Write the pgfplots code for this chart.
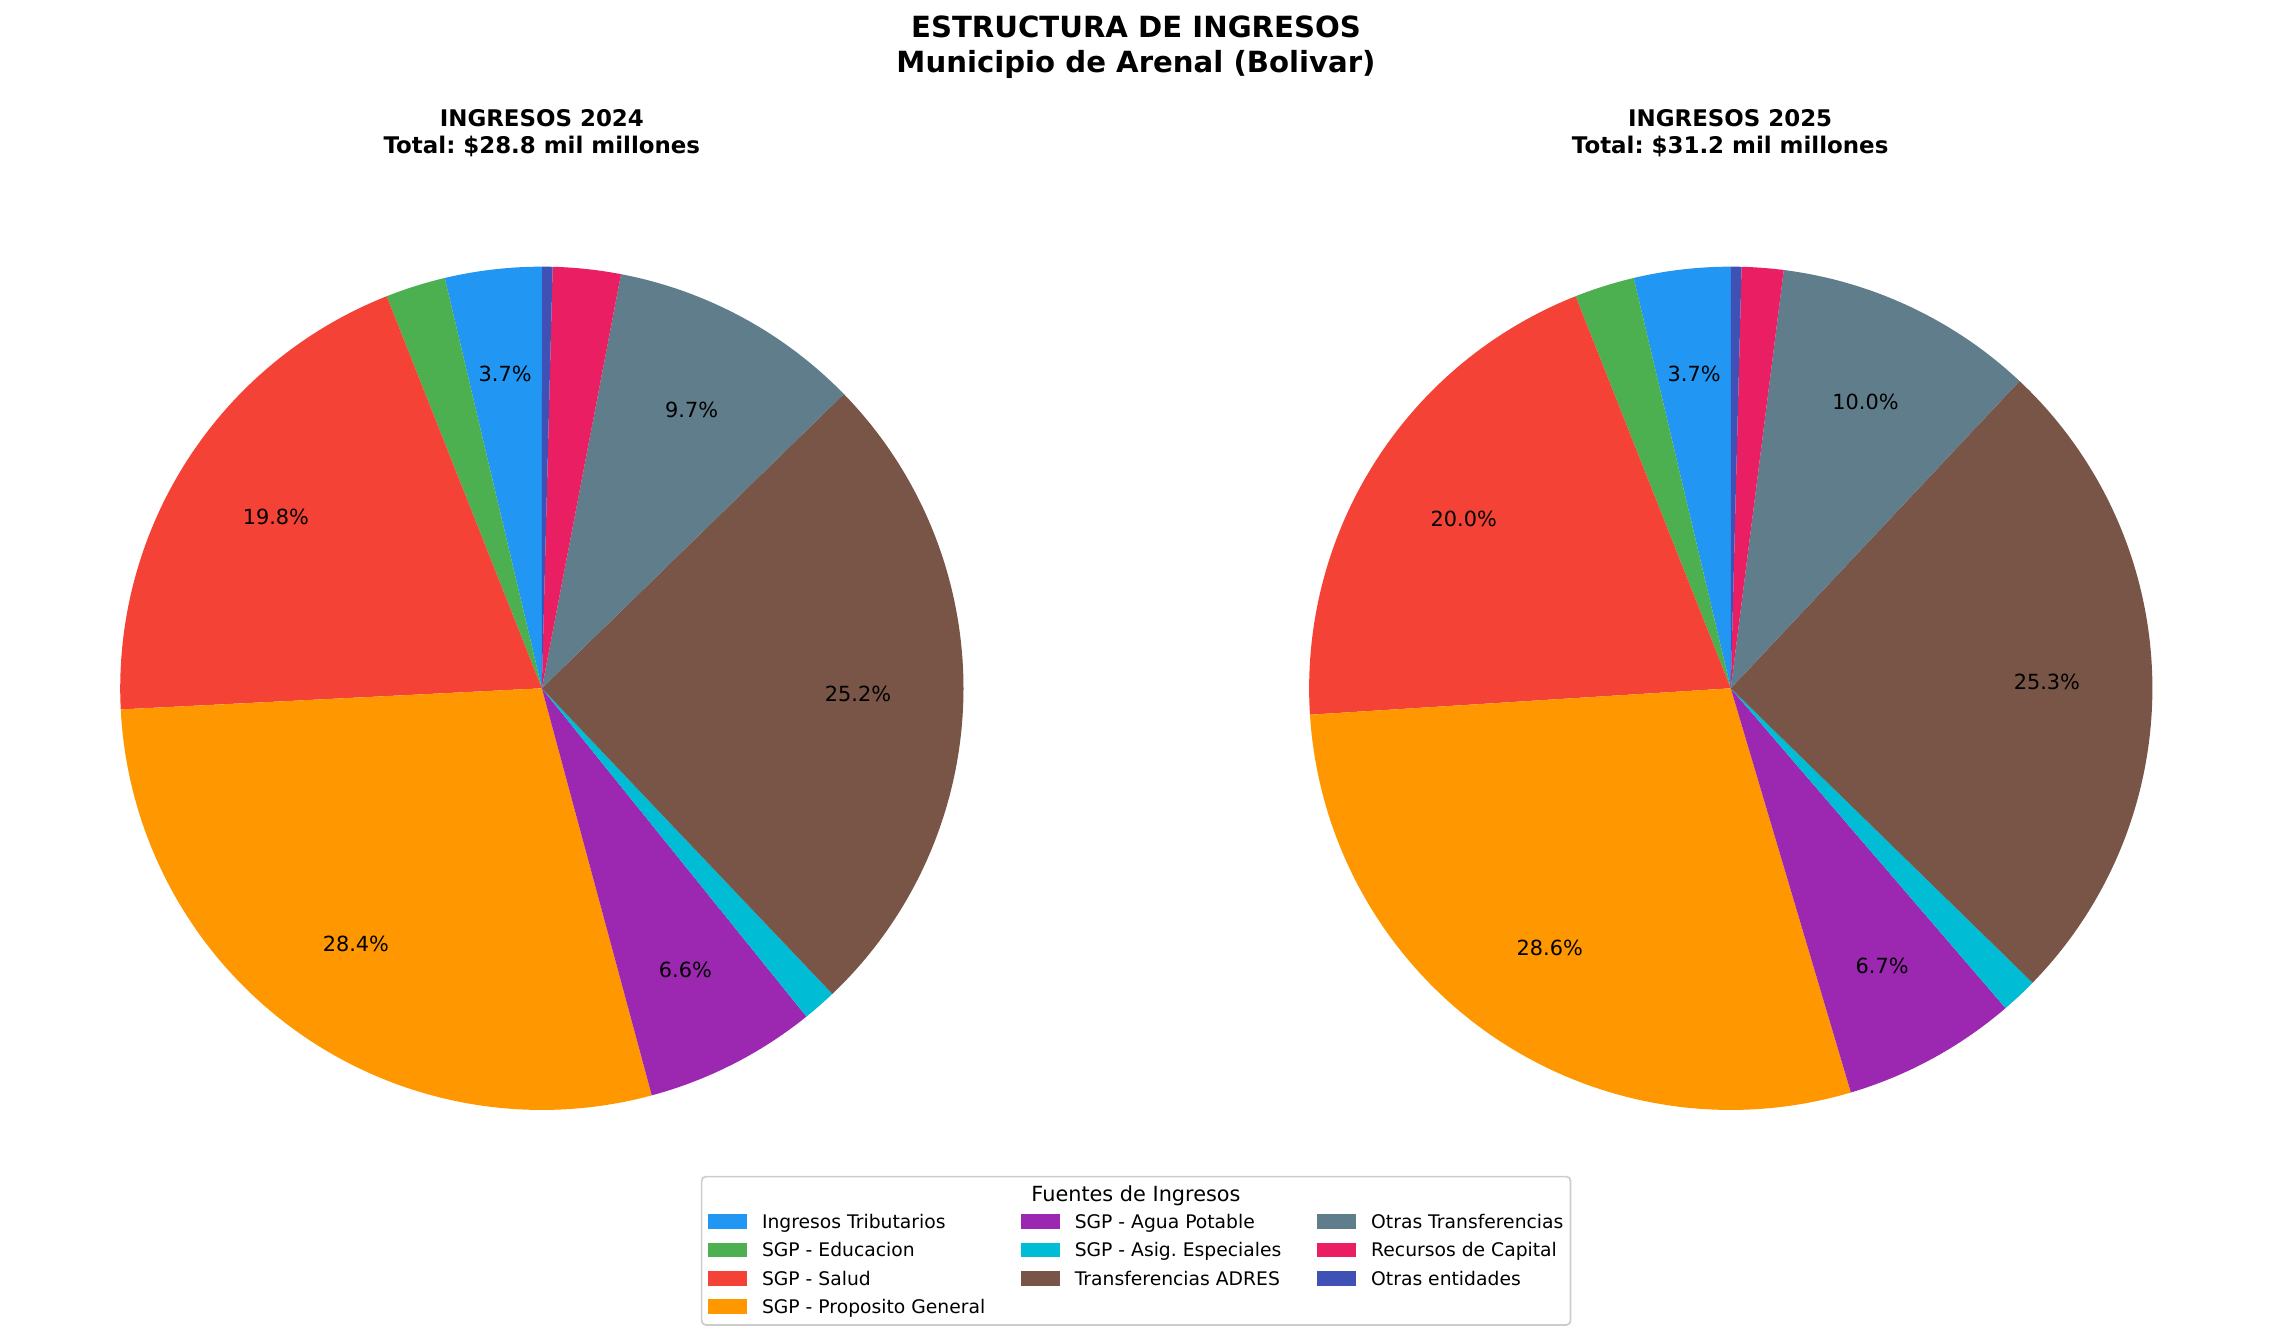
\documentclass[border=0pt]{standalone}
\usepackage{fontspec}
\setmainfont{DejaVu Sans}
\usepackage{pgfplots}
\usepackage{pgfplotstable}
\pgfplotsset{compat=1.18}
\frenchspacing

\definecolor{c0}{HTML}{2196F3}
\definecolor{c1}{HTML}{4CAF50}
\definecolor{c2}{HTML}{F44336}
\definecolor{c3}{HTML}{FF9800}
\definecolor{c4}{HTML}{9C27B0}
\definecolor{c5}{HTML}{00BCD4}
\definecolor{c6}{HTML}{795548}
\definecolor{c7}{HTML}{607D8B}
\definecolor{c8}{HTML}{E91E63}
\definecolor{c9}{HTML}{3F51B5}

% Income structure (percent of total)
\pgfplotstableread{
fuente pct
Tributarios 3.7
Educacion 2.3
Salud 19.8
PropositoGeneral 28.4
AguaPotable 6.6
AsigEspeciales 1.3
ADRES 25.2
OtrasTransferencias 9.7
RecursosCapital 2.6
OtrasEntidades 0.4
}\dataA
\pgfplotstableread{
fuente pct
Tributarios 3.7
Educacion 2.3
Salud 20.0
PropositoGeneral 28.6
AguaPotable 6.7
AsigEspeciales 1.4
ADRES 25.3
OtrasTransferencias 10.0
RecursosCapital 1.6
OtrasEntidades 0.4
}\dataB

\newcommand\labfont{\fontsize{10}{12}\selectfont}

% #1 table, #2 cx, #3 cy, #4 radius
\newcommand\drawpie[4]{%
  \pgfplotstablegetrowsof{#1}%
  \pgfmathtruncatemacro\nrows{\pgfplotsretval-1}%
  \def\ptot{0}%
  \pgfplotsforeachungrouped \i in {0,...,\nrows}{%
    \pgfplotstablegetelem{\i}{pct}\of{#1}%
    \pgfmathsetmacro\ptot{\ptot+\pgfplotsretval}%
  }%
  \def\curang{90}%
  \pgfplotsforeachungrouped \i in {0,...,\nrows}{%
    \pgfplotstablegetelem{\i}{pct}\of{#1}\let\pval\pgfplotsretval
    \pgfmathsetmacro\aend{\curang+360*(\pval/\ptot)}%
    \pgfmathtruncatemacro\nsteps{max(2,ceil((\aend-\curang)/0.5))}%
    \pgfmathsetmacro\dang{(\aend-\curang)/\nsteps}%
    \xdef\coords{(#2,#3)}%
    \foreach \k in {0,...,\nsteps}{%
      \pgfmathsetmacro\ang{\curang+\k*\dang}%
      \pgfmathsetmacro\px{#2+#4*cos(\ang)}%
      \pgfmathsetmacro\py{#3+#4*sin(\ang)}%
      \xdef\coords{\coords (\px,\py)}%
    }%
    \edef\temp{\noexpand\addplot[fill=c\i, draw=none, forget plot] coordinates {\coords (#2,#3)};}%
    \temp
    \pgfmathtruncatemacro\showlab{(\pval/\ptot*100>3)}%
    \ifnum\showlab=1
      \pgfmathsetmacro\amid{(\curang+\aend)/2}%
      \pgfmathsetmacro\lx{#2+0.75*#4*cos(\amid)}%
      \pgfmathsetmacro\ly{#3+0.75*#4*sin(\amid)}%
      \pgfmathtruncatemacro\tenths{round(\pval/\ptot*1000)}%
      \pgfmathtruncatemacro\ip{\tenths/10}%
      \pgfmathtruncatemacro\fp{\tenths-10*\ip}%
      \edef\temp{\noexpand\node[font=\noexpand\labfont, inner sep=0pt] at (axis cs:\lx,\ly) {\ip.\fp\noexpand\%};}%
      \temp
    \fi
    \let\curang\aend
  }%
}

\newcommand\legitem[4]{% x, y(center), color, text
  \fill[#3] (axis cs:#1,#2-3.53) rectangle (axis cs:#1+18.7,#2+3.53);
  \node[anchor=base west, inner sep=0pt, font=\fontsize{9}{11}\selectfont] at (axis cs:#1+25.6,#2-3.28) {#4};
}

\begin{document}
\begin{tikzpicture}
\useasboundingbox (0,0) rectangle (1090.6pt,643.2pt);
\begin{axis}[at={(0pt,0pt)}, anchor=south west,
  width=1090.6pt, height=643.2pt, scale only axis,
  xmin=0, xmax=1090.6, ymin=0, ymax=643.2,
  hide axis, clip=false]

\drawpie{\dataA}{260.1}{312.8}{202.4}
\drawpie{\dataB}{830.8}{312.8}{202.4}

% titles
\node[anchor=base, inner sep=0pt, font=\fontsize{14}{17}\selectfont\bfseries] at (axis cs:545.3,625.0) {ESTRUCTURA DE INGRESOS};
\node[anchor=base, inner sep=0pt, font=\fontsize{14}{17}\selectfont\bfseries] at (axis cs:545.3,608.3) {Municipio de Arenal (Bolivar)};
\node[anchor=base, inner sep=0pt, font=\fontsize{11}{13}\selectfont\bfseries] at (axis cs:260.1,582.7) {INGRESOS 2024};
\node[anchor=base, inner sep=0pt, font=\fontsize{11}{13}\selectfont\bfseries] at (axis cs:260.1,569.6) {Total: \$28.8 mil millones};
\node[anchor=base, inner sep=0pt, font=\fontsize{11}{13}\selectfont\bfseries] at (axis cs:830.5,582.7) {INGRESOS 2025};
\node[anchor=base, inner sep=0pt, font=\fontsize{11}{13}\selectfont\bfseries] at (axis cs:830.5,569.6) {Total: \$31.2 mil millones};

% legend
\draw[draw=black!20, fill=white, line width=0.8pt, rounded corners=2pt] (axis cs:336.8,7.2) rectangle (axis cs:753.9,78.4);
\node[anchor=base, inner sep=0pt, font=\fontsize{10}{12}\selectfont] at (axis cs:545.3,66.4) {Fuentes de Ingresos};
\legitem{340.0}{56.75}{c0}{Ingresos Tributarios}
\legitem{340.0}{43.15}{c1}{SGP - Educacion}
\legitem{340.0}{29.55}{c2}{SGP - Salud}
\legitem{340.0}{15.95}{c3}{SGP - Proposito General}
\legitem{490.1}{56.75}{c4}{SGP - Agua Potable}
\legitem{490.1}{43.15}{c5}{SGP - Asig. Especiales}
\legitem{490.1}{29.55}{c6}{Transferencias ADRES}
\legitem{632.4}{56.75}{c7}{Otras Transferencias}
\legitem{632.4}{43.15}{c8}{Recursos de Capital}
\legitem{632.4}{29.55}{c9}{Otras entidades}
\end{axis}
\end{tikzpicture}
\end{document}
